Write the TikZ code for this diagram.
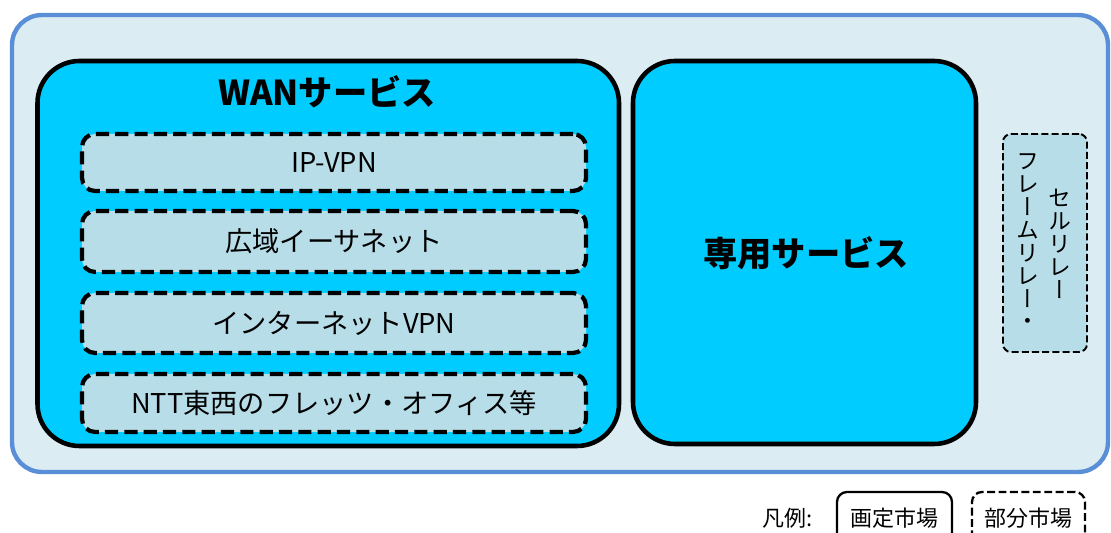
\documentclass[tikz,border=0pt]{standalone}
\usepackage{fontspec}
\setmainfont{Noto Sans CJK JP}
\newfontfamily\vjp[RawFeature=+vert]{Noto Sans CJK JP}
\usetikzlibrary{fit}
\definecolor{outerfill}{HTML}{DBECF3}
\definecolor{outerline}{HTML}{5A8ED6}
\definecolor{cyanfill}{HTML}{00CCFF}
\definecolor{subfill}{HTML}{B7DDE8}
\tikzset{
  outerbox/.style={draw=outerline, fill=outerfill, line width=2.5pt, rounded corners=0.6cm, inner sep=0pt},
  mainbox/.style={draw=black, fill=cyanfill, line width=2.6pt, rounded corners=0.84cm, inner sep=0pt},
  subbox/.style={draw=black, fill=subfill, line width=2.4pt, rounded corners=0.26cm, dash pattern=on 7.5pt off 3.5pt, inner sep=0pt},
  subtext/.style={font=\fontsize{15.5}{15.5}\selectfont, inner sep=0pt},
  thindash/.style={draw=black, fill=subfill, line width=1.1pt, rounded corners=0.16cm, dash pattern=on 4pt off 1.8pt, inner sep=0pt},
  vcol/.style={font=\vjp\fontsize{13}{13}\selectfont, align=center, inner sep=0pt},
  title/.style={font=\bfseries\fontsize{19.5}{19.5}\selectfont, inner sep=0pt},
  legtext/.style={font=\fontsize{12.5}{12.5}\selectfont, inner sep=0pt},
  legsolid/.style={draw=black, line width=1.3pt, rounded corners=0.2cm, inner sep=0pt},
  legdash/.style={draw=black, line width=1.3pt, rounded corners=0.2cm, dash pattern=on 4.5pt off 2pt, inner sep=0pt}
}
\begin{document}
\begin{tikzpicture}
\useasboundingbox (0,0) rectangle (22.22,-10.66);
\node[outerbox, fit={(0.24,-0.30) (22.16,-9.44)}] (outer) {};
\node[mainbox, fit={(0.75,-1.22) (12.38,-8.92)}] (wan) {};
\node[title] (wantitle) at (6.54,-1.84) {WANサービス};
\node[subbox, fit={(1.64,-2.68) (11.72,-3.82)}] (ipvpn) {};
\node[subtext] (ipvpnt) at (ipvpn.center) {IP-VPN};
\node[subbox, fit={(1.64,-4.22) (11.72,-5.44)}] (ether) {};
\node[subtext] (ethert) at (ether.center) {広域イーサネット};
\node[subbox, fit={(1.64,-5.86) (11.72,-7.06)}] (ivpn) {};
\node[subtext] (ivpnt) at (ivpn.center) {インターネットVPN};
\node[subbox, fit={(1.64,-7.48) (11.72,-8.64)}] (flets) {};
\node[subtext] (fletst) at (flets.center) {NTT東西のフレッツ・オフィス等};
\node[mainbox, fit={(12.66,-1.22) (19.52,-8.88)}] (senyo) {};
\node[title] (senyotitle) at (16.12,-5.06) {専用サービス};
\node[thindash, fit={(20.06,-2.68) (21.74,-7.04)}] (frbox) {};
\node[vcol] (vl) at (20.56,-4.84) {フ\\レ\\ー\\ム\\リ\\レ\\ー\\・};
\node[vcol] (vr) at (21.20,-4.88) {セ\\ル\\リ\\レ\\ー};
\node[legtext] (leg) at (15.76,-10.36) {凡例:};
\node[legsolid, fit={(16.74,-9.84) (19.04,-11.3)}] (legs) {};
\node[legtext] (legst) at (17.89,-10.36) {画定市場};
\node[legdash, fit={(19.44,-9.84) (21.70,-11.3)}] (legd) {};
\node[legtext] (legdt) at (20.57,-10.36) {部分市場};
\end{tikzpicture}
\end{document}
